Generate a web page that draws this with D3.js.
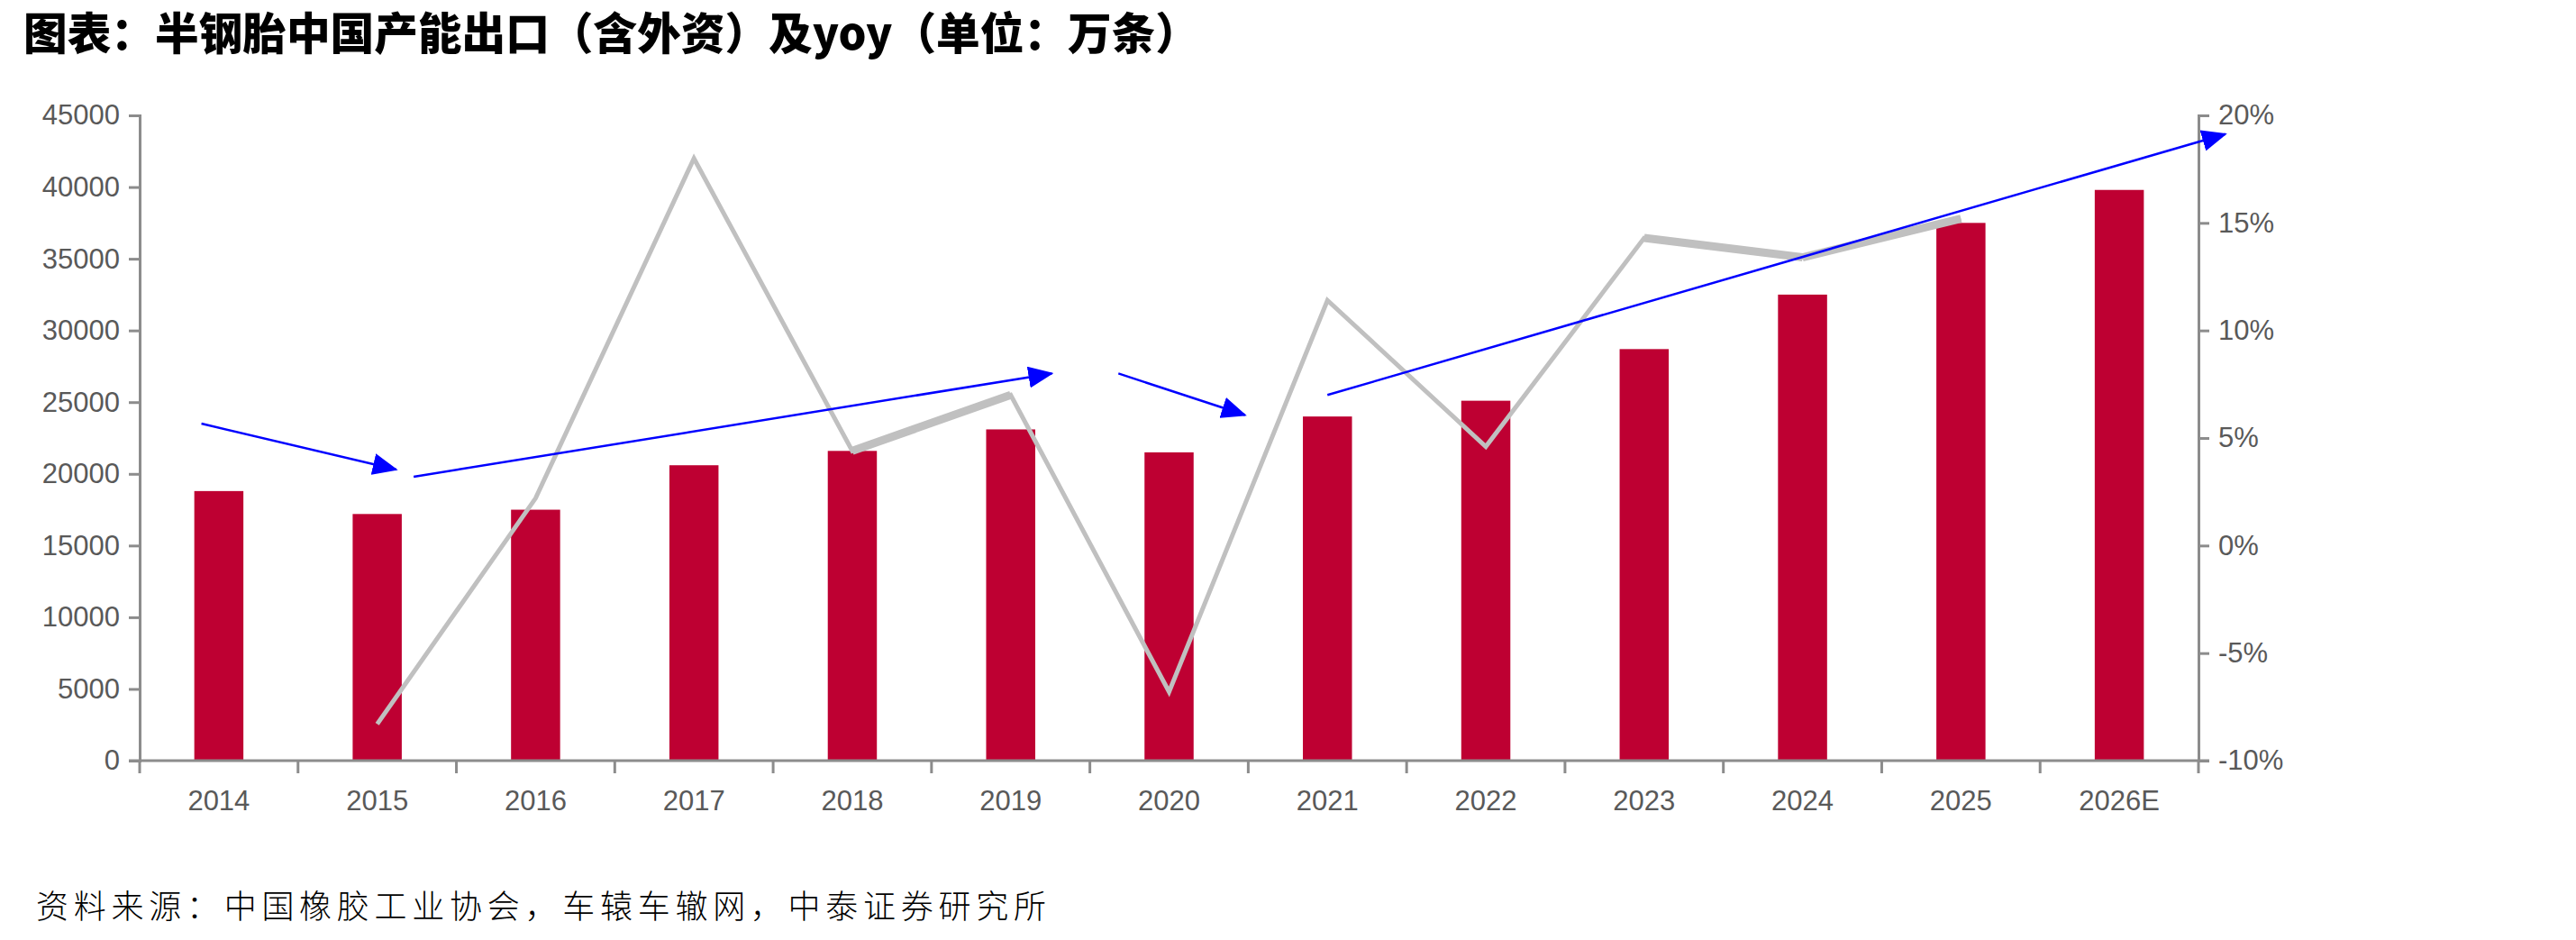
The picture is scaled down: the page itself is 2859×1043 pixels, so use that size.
<!DOCTYPE html>
<html>
<head>
<meta charset="utf-8">
<script src="https://cdn.jsdelivr.net/npm/d3@7"></script>
<style>
  html, body { margin: 0; padding: 0; background: #fff; overflow: hidden; }
  svg { display: block; }
</style>
</head>
<body>
<div id="chart"></div>
<script>
// ---- Data ----
const years = ['2014', '2015', '2016', '2017', '2018', '2019', '2020', '2021', '2022', '2023', '2024', '2025', '2026E'];
const exportVol = [18800, 17200, 17500, 20600, 21600, 23100, 21500, 24000, 25100, 28700, 32500, 37500, 39800];
// yoy (%), no value for 2014 and 2026E
const yoy = [null, -8.3, 2.2, 18.0, 4.4, 7.0, -6.8, 11.4, 4.6, 14.3, 13.4, 15.2, null];
const leftTicks = [0, 5000, 10000, 15000, 20000, 25000, 30000, 35000, 40000, 45000];
const rightTicks = [-10, -5, 0, 5, 10, 15, 20];
// trend arrows: [from category pos, from value, to category pos (tip), to value] on left axis
const arrows = [
  [-0.11, 23500, 1.12, 20300],
  [1.23, 19800, 5.26, 27000],
  [5.68, 27000, 6.48, 24100],
  [7.0, 25500, 12.67, 43700]
];

const W = 2859, H = 1043;
const margin = { top: 128, right: W - 2440, bottom: H - 844, left: 155 };
const innerWidth = W - margin.left - margin.right;
const innerHeight = H - margin.top - margin.bottom;

const svg = d3.select('#chart').append('svg')
  .attr('width', W).attr('height', H);

const g = svg.append('g').attr('transform', `translate(${margin.left},${margin.top})`);

// ---- Scales ----
const x = d3.scaleBand().domain(years).range([0, innerWidth]).padding(0);
const xPos = i => x.bandwidth() * (i + 0.5);
const yL = d3.scaleLinear().domain([0, 45000]).range([innerHeight, 0]);
const yR = d3.scaleLinear().domain([-10, 20]).range([innerHeight, 0]);

const axisColor = '#8c8c8c';
const labelColor = '#595959';
const font = '"Liberation Sans", Arial, sans-serif';

// ---- Bars ----
const barW = x.bandwidth() * 0.31;
g.selectAll('.bar').data(exportVol).join('rect')
  .attr('class', 'bar')
  .attr('x', (d, i) => xPos(i) - barW / 2)
  .attr('y', d => yL(d))
  .attr('width', barW)
  .attr('height', d => innerHeight - yL(d))
  .attr('fill', '#be0032');

// ---- yoy line ----
const pts = yoy.map((v, i) => ({ i, v })).filter(d => d.v !== null);
const lineGen = d3.line().x(d => xPos(d.i)).y(d => yR(d.v));
g.append('path')
  .datum(pts)
  .attr('d', lineGen)
  .attr('fill', 'none')
  .attr('stroke', '#c0c0c0')
  .attr('stroke-width', 5)
  .attr('stroke-linejoin', 'miter');

// a few segments look heavier in the source
const thick = [[4, 5], [9, 10], [10, 11]];
thick.forEach(([a, b]) => {
  g.append('path')
    .datum([{ i: a, v: yoy[a] }, { i: b, v: yoy[b] }])
    .attr('d', lineGen)
    .attr('fill', 'none')
    .attr('stroke', '#c0c0c0')
    .attr('stroke-width', 9);
});

// ---- Axes ----
const styleAxis = sel => {
  sel.select('.domain').attr('stroke', axisColor).attr('stroke-width', 3);
  sel.selectAll('.tick line').attr('stroke', axisColor).attr('stroke-width', 3);
  sel.selectAll('.tick text')
    .attr('fill', labelColor)
    .attr('font-family', font)
    .attr('font-size', '31px');
};

g.append('g')
  .call(d3.axisLeft(yL).tickValues(leftTicks).tickFormat(d3.format('d'))
    .tickSize(12).tickPadding(10).tickSizeOuter(12))
  .call(styleAxis);

g.append('g')
  .attr('transform', `translate(${innerWidth},0)`)
  .call(d3.axisRight(yR).tickValues(rightTicks).tickFormat(d => d + '%')
    .tickSize(12).tickPadding(10).tickSizeOuter(12))
  .call(styleAxis);

// x axis: ticks on category boundaries, labels at centres
const xAxisG = g.append('g').attr('transform', `translate(0,${innerHeight})`);
xAxisG.append('line')
  .attr('x1', -12).attr('x2', innerWidth + 12)
  .attr('stroke', axisColor).attr('stroke-width', 3);
xAxisG.selectAll('.xtick').data(d3.range(years.length + 1)).join('line')
  .attr('class', 'xtick')
  .attr('x1', d => d * x.bandwidth()).attr('x2', d => d * x.bandwidth())
  .attr('y1', 0).attr('y2', 14)
  .attr('stroke', axisColor).attr('stroke-width', 3);
xAxisG.selectAll('.xlab').data(years).join('text')
  .attr('class', 'xlab')
  .attr('x', (d, i) => xPos(i))
  .attr('y', 44)
  .attr('dy', '0.35em')
  .attr('text-anchor', 'middle')
  .attr('fill', labelColor)
  .attr('font-family', font)
  .attr('font-size', '31px')
  .text(d => d);

// ---- Trend arrows ----
const defs = svg.append('defs');
defs.append('marker')
  .attr('id', 'arrowHead')
  .attr('viewBox', '0 0 28 24')
  .attr('refX', 26).attr('refY', 12)
  .attr('markerWidth', 28).attr('markerHeight', 24)
  .attr('markerUnits', 'userSpaceOnUse')
  .attr('orient', 'auto')
  .append('path')
  .attr('d', 'M0,0 L28,12 L0,24 Z')
  .attr('fill', '#0000ff');

g.selectAll('.trend').data(arrows).join('line')
  .attr('class', 'trend')
  .attr('x1', d => xPos(d[0])).attr('y1', d => yL(d[1]))
  .attr('x2', d => xPos(d[2])).attr('y2', d => yL(d[3]))
  .attr('stroke', '#0000ff')
  .attr('stroke-width', 2.5)
  .attr('marker-end', 'url(#arrowHead)');

// ---- Title & source ----
svg.append('text')
  .attr('x', 26).attr('y', 38)
  .attr('dy', '0.35em')
  .attr('font-family', '"Noto Sans CJK SC", sans-serif')
  .attr('font-weight', 900)
  .attr('font-size', '49px')
  .attr('fill', '#000')
  .attr('textLength', 1305)
  .attr('lengthAdjust', 'spacingAndGlyphs')
  .text('图表：半钢胎中国产能出口（含外资）及yoy（单位：万条）');

svg.append('text')
  .attr('x', 40).attr('y', 1006)
  .attr('dy', '0.35em')
  .attr('font-family', '"Noto Sans CJK SC", sans-serif')
  .attr('font-weight', 300)
  .attr('font-size', '36px')
  .attr('fill', '#000')
  .attr('textLength', 1121)
  .attr('lengthAdjust', 'spacing')
  .text('资料来源：中国橡胶工业协会，车辕车辙网，中泰证券研究所');
</script>
</body>
</html>
